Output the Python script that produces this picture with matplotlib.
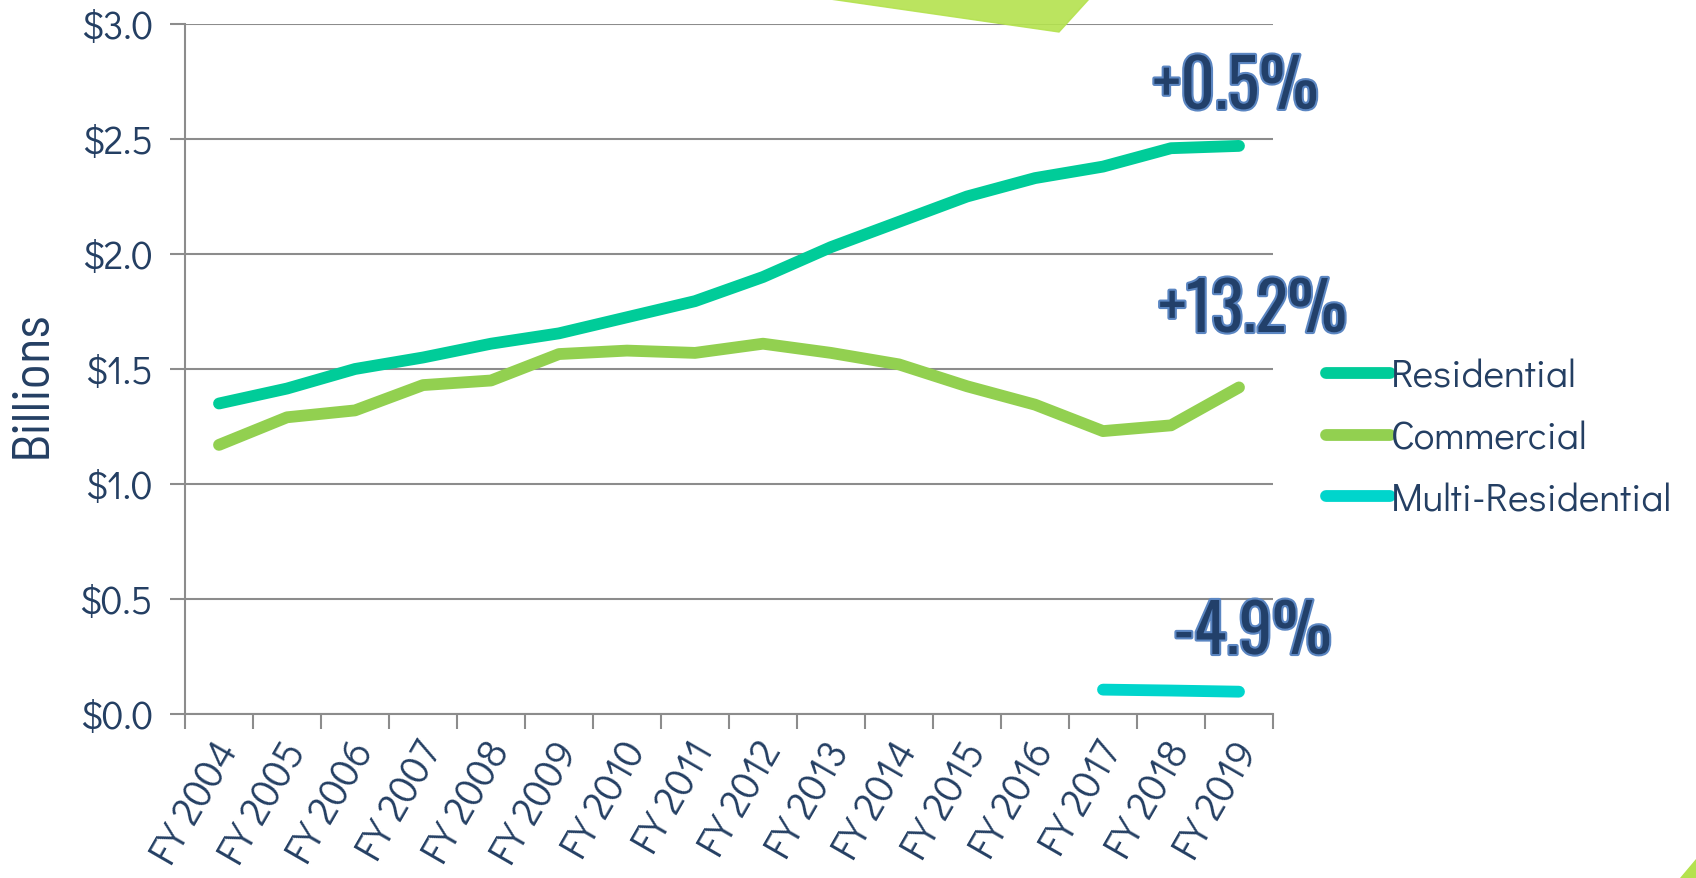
import matplotlib.pyplot as plt
import matplotlib.patheffects as pe
from matplotlib.patches import Polygon
from matplotlib.ticker import FixedLocator
from matplotlib.transforms import ScaledTranslation
import numpy as np

years = ['FY 2004', 'FY 2005', 'FY 2006', 'FY 2007', 'FY 2008', 'FY 2009',
         'FY 2010', 'FY 2011', 'FY 2012', 'FY 2013', 'FY 2014', 'FY 2015',
         'FY 2016', 'FY 2017', 'FY 2018', 'FY 2019']
residential = [1.35, 1.415, 1.50, 1.55, 1.61, 1.655, 1.725, 1.795, 1.90, 2.03,
               2.14, 2.25, 2.33, 2.38, 2.46, 2.47]
commercial = [1.17, 1.29, 1.32, 1.43, 1.45, 1.565, 1.58, 1.57, 1.61, 1.57,
              1.52, 1.425, 1.345, 1.23, 1.255, 1.42]
multi_years = ['FY 2017', 'FY 2018', 'FY 2019']
multi_residential = [0.106, 0.102, 0.097]
y_ticks = [0.0, 0.5, 1.0, 1.5, 2.0, 2.5, 3.0]
changes = ['+0.5%', '+13.2%', '-4.9%']
change_pos = [(14.95, 2.72), (15.2, 1.75), (15.2, 0.35)]

TEXT = '#243F63'
GRID = '#8C8C8C'
RES_COLOR = '#00CC99'
COM_COLOR = '#92D050'
MULTI_COLOR = '#00D5CC'
GOTHIC = ['Didact Gothic', 'Questrial', 'Lato', 'DejaVu Sans']
NARROW = ['Barlow Semi Condensed', 'Barlow Condensed', 'DejaVu Sans']
BOLD_NARROW = ['Oswald', 'Antonio', 'DejaVu Sans']

plt.rcParams['font.family'] = GOTHIC

fig = plt.figure(figsize=(16.96, 8.79), dpi=100)
ax = fig.add_axes([185 / 1696, 1 - 715 / 879, (1273 - 185) / 1696, (715 - 25) / 879])

x = np.arange(len(years))
xm = np.array([years.index(y) for y in multi_years])
ax.plot(x, residential, color=RES_COLOR, lw=8.5, solid_capstyle='round',
        solid_joinstyle='round', label='Residential', zorder=3)
ax.plot(x, commercial, color=COM_COLOR, lw=8.5, solid_capstyle='round',
        solid_joinstyle='round', label='Commercial', zorder=3)
ax.plot(xm, multi_residential, color=MULTI_COLOR, lw=8.5, solid_capstyle='round',
        label='Multi-Residential', zorder=3)

ax.set_xlim(-0.5, len(years) - 0.5)
ax.set_ylim(0, 3.0)
ax.set_yticks(y_ticks)
ax.set_yticklabels(['${:.1f}'.format(v) for v in y_ticks], fontsize=28, color=TEXT)
ax.yaxis.grid(True, color=GRID, lw=1.5)
ax.set_axisbelow(True)

ax.set_xticks(x)
ax.set_xticklabels(years, rotation=60, ha='right', va='center',
                   rotation_mode='anchor', fontsize=29, color=TEXT)
ax.xaxis.set_minor_locator(FixedLocator(np.arange(-0.5, len(years), 1.0)))
ax.tick_params(axis='x', which='major', length=0, pad=22)
ax.tick_params(axis='x', which='minor', length=11, width=1.5, color=GRID)
ax.tick_params(axis='y', length=11, width=1.5, color=GRID, pad=12)
# nudge the rotated labels so their ends sit right of the category centre
shift = ScaledTranslation(0.1, 0.0, fig.dpi_scale_trans)
for lab in ax.get_xticklabels():
    lab.set_transform(lab.get_transform() + shift)

for side in ['top', 'right']:
    ax.spines[side].set_visible(False)
for side in ['left', 'bottom']:
    ax.spines[side].set_color(GRID)
    ax.spines[side].set_linewidth(1.5)

ax.set_ylabel('Billions', fontsize=38, color=TEXT, family=NARROW)
ax.yaxis.set_label_coords(-0.119, 0.48)

for txt, (tx, ty) in zip(changes, change_pos):
    ax.text(tx, ty, txt, ha='center', va='center', fontsize=48, fontweight='bold',
            color='#22406A', family=BOLD_NARROW,
            path_effects=[pe.withStroke(linewidth=3, foreground='#5B86C2')],
            clip_on=False, zorder=4)

leg = fig.legend(loc='upper left', bbox_to_anchor=(1326 / 1696, 1 - 359 / 879),
                 frameon=False, fontsize=28, handlelength=1.65, handletextpad=0.02,
                 labelspacing=0.65, borderpad=0, borderaxespad=0)
for t in leg.get_texts():
    t.set_color(TEXT)

# decorative shapes
fig.patches.append(Polygon([(830 / 1696, 1.0), (1089 / 1696, 1.0), (1059 / 1696, 1 - 33 / 879)],
                           closed=True, transform=fig.transFigure, color='#B4E24E',
                           alpha=0.9, zorder=5))
fig.patches.append(Polygon([(1680 / 1696, 0.0), (1.0, 0.0), (1.0, 1 - 860 / 879)],
                           closed=True, transform=fig.transFigure, color='#B4E24E'))

fig.savefig('out.png', dpi=100)
